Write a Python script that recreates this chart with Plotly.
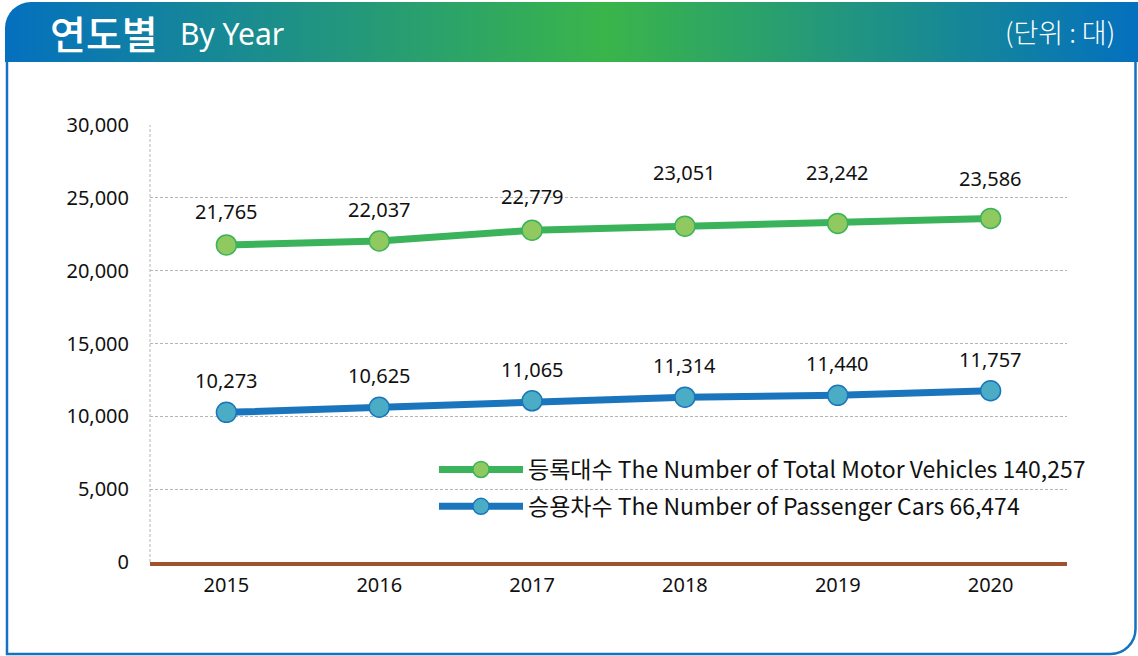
import base64
import plotly.graph_objects as go

# ---- data ----
years = ["2015", "2016", "2017", "2018", "2019", "2020"]
total_vehicles = [21765, 22037, 22779, 23051, 23242, 23586]
passenger_cars = [10273, 10625, 11065, 11314, 11440, 11757]
total_name = "등록대수 The Number of Total Motor Vehicles 140,257"
cars_name = "승용차수 The Number of Passenger Cars 66,474"
y_ticks = [0, 5000, 10000, 15000, 20000, 25000, 30000]
title_ko = "연도별"
title_en = "By Year"
unit_text = "(단위 : 대)"

# label lift (px) above each point - styling only
green_lift = [18, 16, 18, 38, 35, 24]
blue_lift = [16, 16, 16, 16, 16, 16]

W, H = 1138, 656
L, R, T, B = 150, 71, 125, 94
PW, PH = W - L - R, H - T - B

def px(x):
    return (x - L) / PW

def py(y):
    return (H - B - y) / PH

FONT = "Noto Sans, Noto Sans CJK KR, sans-serif"
KFONT = "Noto Sans CJK KR, Noto Sans, sans-serif"

GREEN = "#3BB35A"
GREEN_M = "#8FC95F"
BLUE = "#1B75BC"
BLUE_M = "#4BACC6"

svg = f'''<svg xmlns="http://www.w3.org/2000/svg" width="{W}" height="{H}" viewBox="0 0 {W} {H}">
<defs><linearGradient id="g" x1="0" y1="0" x2="1" y2="0">
<stop offset="0" stop-color="#0470BF"/>
<stop offset="0.53" stop-color="#3AB54A"/>
<stop offset="1" stop-color="#0470BF"/>
</linearGradient></defs>
<path d="M5,62 V28 A26,26 0 0 1 31,2 H1138 V62 Z" fill="url(#g)"/>
<path d="M7,62 V654 H1110 A25,25 0 0 0 1135.5,629 V62" fill="none" stroke="#1473C0" stroke-width="2.5"/>
</svg>'''
svg_uri = "data:image/svg+xml;base64," + base64.b64encode(svg.encode()).decode()

fig = go.Figure()
fig.add_trace(go.Scatter(
    x=years, y=total_vehicles, name=total_name, mode="lines+markers", legendgroup="total",
    line=dict(color=GREEN, width=7),
    marker=dict(size=20, color=GREEN_M, line=dict(color=GREEN, width=1.5)),
))
fig.add_trace(go.Scatter(
    x=years, y=passenger_cars, name=cars_name, mode="lines+markers", legendgroup="cars",
    line=dict(color=BLUE, width=7),
    marker=dict(size=20, color=BLUE_M, line=dict(color=BLUE, width=1.5)),
))

annotations = []
for i, (v, lift) in enumerate(zip(total_vehicles, green_lift)):
    annotations.append(dict(x=i, y=v, text=f"{v:,}", showarrow=False, yanchor="bottom",
                            yshift=lift, font=dict(family=FONT, size=20, color="#111")))
for i, (v, lift) in enumerate(zip(passenger_cars, blue_lift)):
    annotations.append(dict(x=i, y=v, text=f"{v:,}", showarrow=False, yanchor="bottom",
                            yshift=lift, font=dict(family=FONT, size=20, color="#111")))

annotations += [
    dict(xref="paper", yref="paper", x=px(48), y=py(32), text=title_ko, showarrow=False,
         xanchor="left", yanchor="middle", font=dict(family=KFONT, size=39, color="white", weight=500)),
    dict(xref="paper", yref="paper", x=px(178), y=py(34), text=title_en, showarrow=False,
         xanchor="left", yanchor="middle", font=dict(family=FONT, size=30, color="white")),
    dict(xref="paper", yref="paper", x=px(1117), y=py(32), text=unit_text, showarrow=False,
         xanchor="right", yanchor="middle", font=dict(family=KFONT, size=27, color="white", weight=300)),
]

fig.update_layout(
    width=W, height=H,
    margin=dict(l=L, r=R, t=T, b=B),
    paper_bgcolor="white", plot_bgcolor="white",
    font=dict(family=FONT, size=20, color="#111"),
    showlegend=True,
    legend=dict(x=px(434), y=py(448), xanchor="left", yanchor="top",
                bgcolor="rgba(0,0,0,0)", itemwidth=84, tracegroupgap=4,
                font=dict(family=KFONT, size=23, color="#111")),
    annotations=annotations,
    images=[dict(source=svg_uri, xref="paper", yref="paper", x=-L / PW, y=1 + T / PH,
                 sizex=W / PW, sizey=H / PH, xanchor="left", yanchor="top",
                 sizing="stretch", layer="below")],
    shapes=[dict(type="line", xref="paper", yref="paper", x0=0, x1=0, y0=0, y1=1,
                 line=dict(color="#B5B5B5", width=1, dash="3px,2px"), layer="below")],
)
fig.update_xaxes(type="category", range=[-0.5, len(years) - 0.5], showgrid=False,
                 showline=True, linecolor="#A0522D", linewidth=4, ticks="",
                 ticklabelstandoff=2, tickfont=dict(family=FONT, size=20, color="#111"))
fig.update_yaxes(range=[0, 30000], tickvals=y_ticks, tickformat=",d", showgrid=True,
                 gridcolor="#B5B5B5", gridwidth=1, griddash="3px,2px", zeroline=False,
                 showline=False, ticks="", ticklabelstandoff=20,
                 tickfont=dict(family=FONT, size=20, color="#111"))

fig.write_html("out.html", config={"displayModeBar": False},
               post_script="document.body.style.margin='0';")
